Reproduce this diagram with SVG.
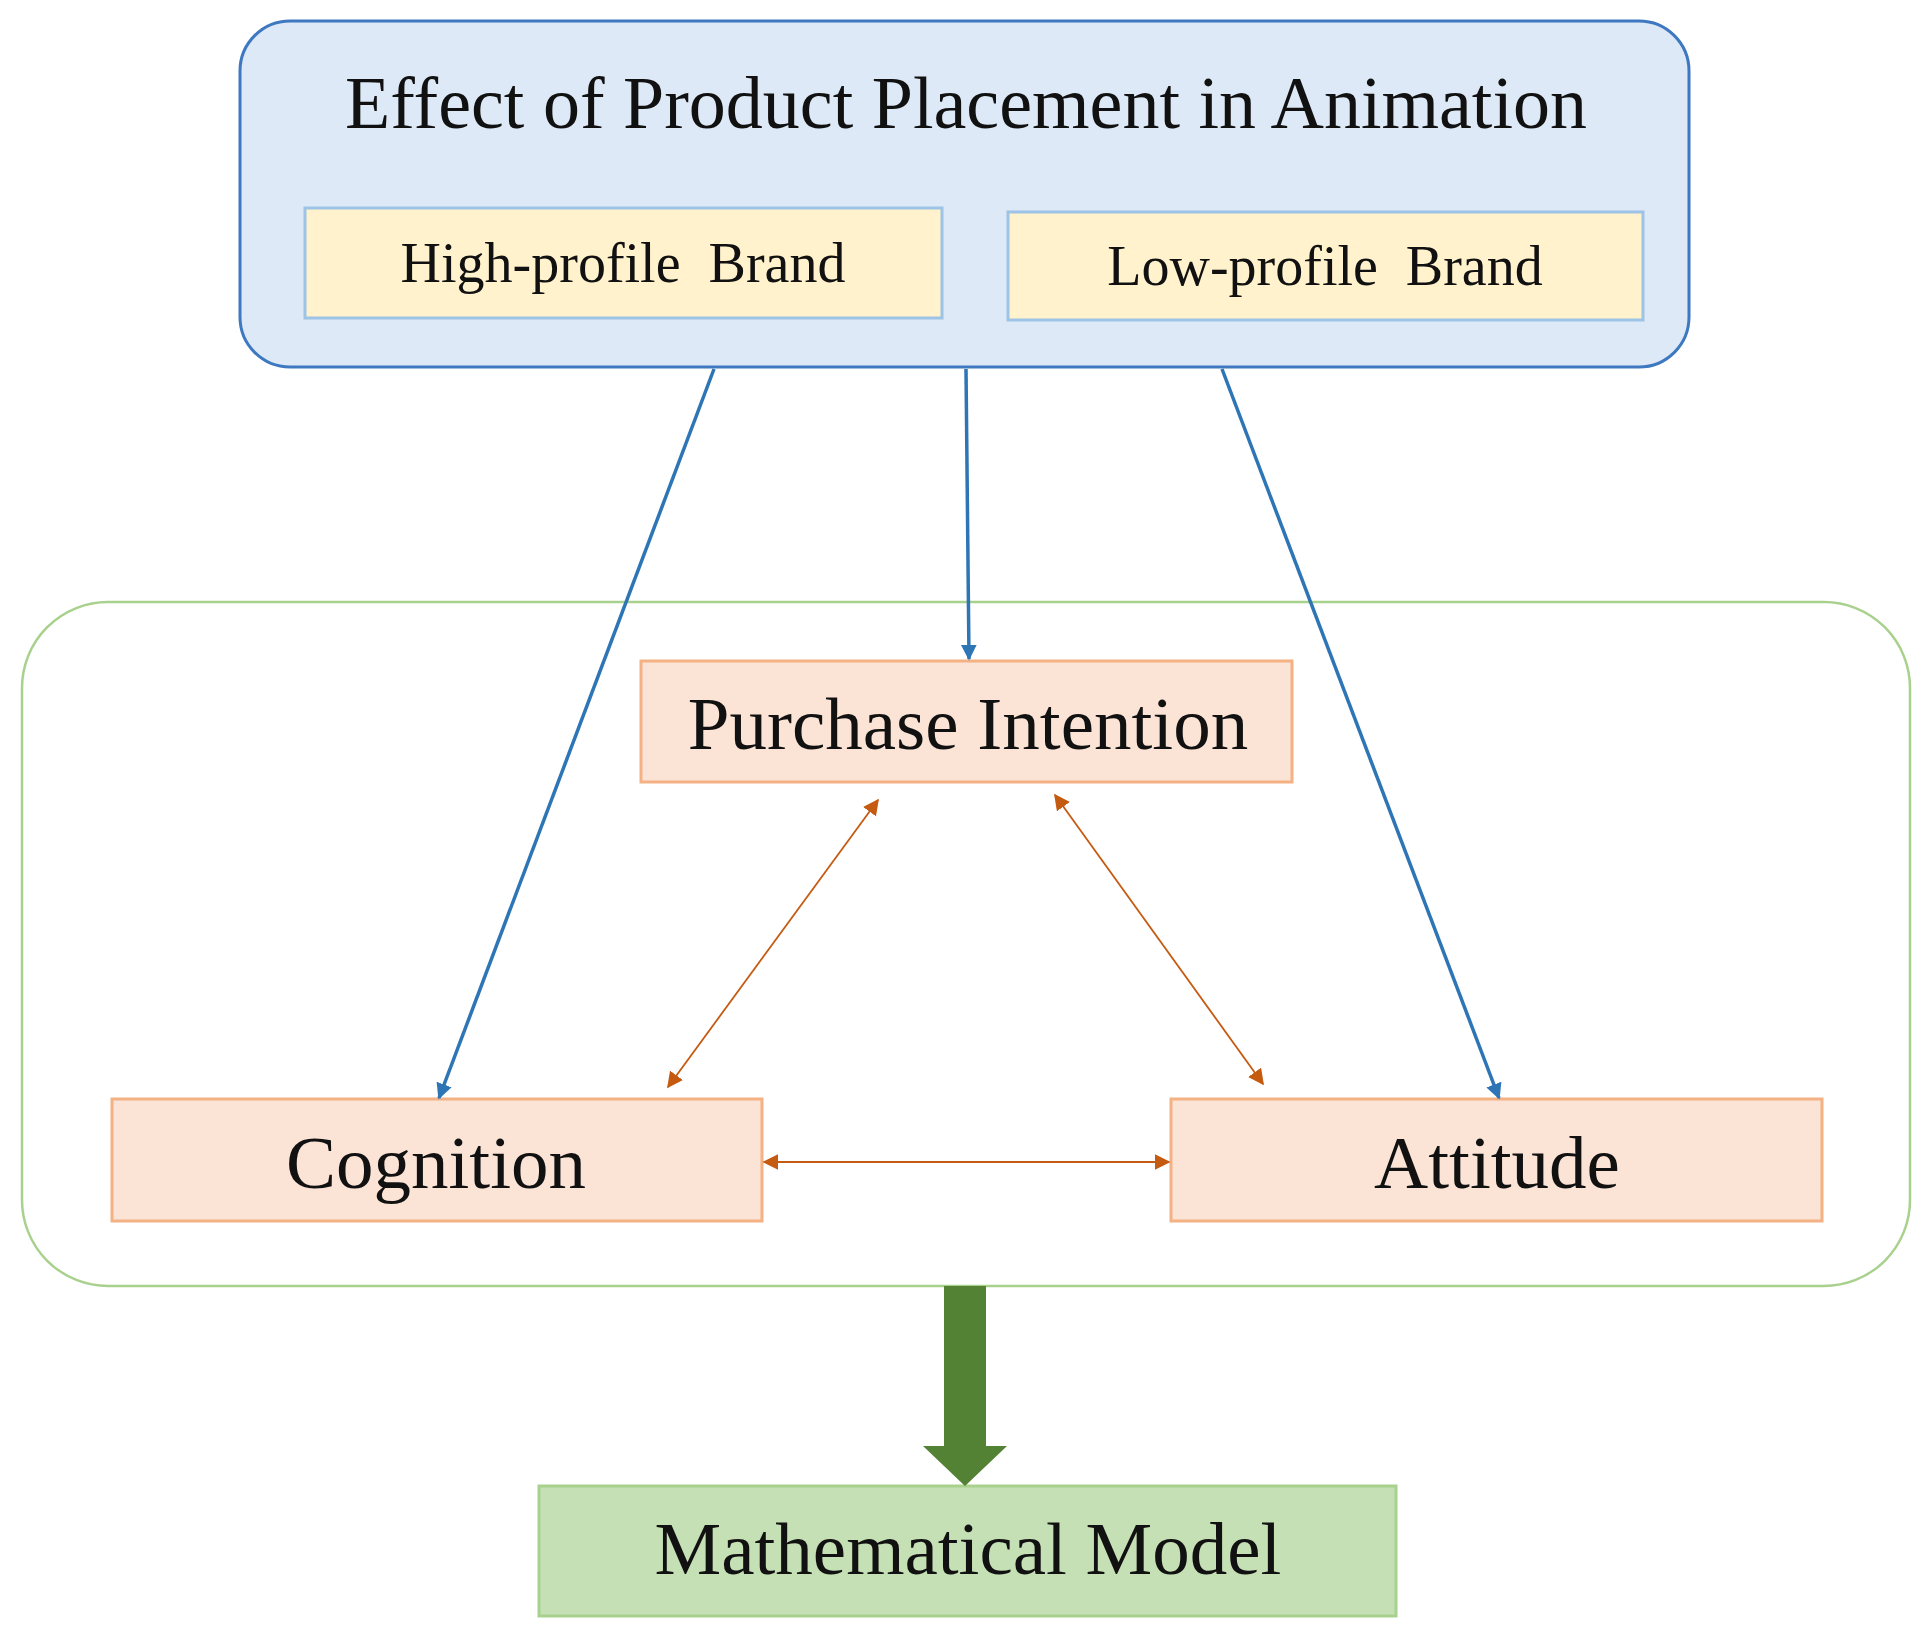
<svg xmlns="http://www.w3.org/2000/svg" width="1930" height="1641" viewBox="0 0 1930 1641">
<style>
text{font-family:"Liberation Serif","Times New Roman",serif;fill:#111;text-anchor:middle;dominant-baseline:central}
.sal{fill:#fbe3d6;stroke:#f4b183;stroke-width:3}
.yel{fill:#fff2cc;stroke:#9dc3e6;stroke-width:3}
.blue{stroke:#2e75b6;stroke-width:3.5;fill:none;marker-end:url(#bh)}
.or{stroke:#c55a11;stroke-width:1.8;fill:none;marker-start:url(#oh);marker-end:url(#oh)}
</style>
<defs>
<marker id="bh" viewBox="0 0 10 10" refX="9" refY="5" markerWidth="16" markerHeight="16" orient="auto" markerUnits="userSpaceOnUse"><path d="M0,0L10,5L0,10z" fill="#2e75b6"/></marker>
<marker id="oh" viewBox="0 0 10 10" refX="9" refY="5" markerWidth="16" markerHeight="16" orient="auto-start-reverse" markerUnits="userSpaceOnUse"><path d="M0,0L10,5L0,10z" fill="#c55a11"/></marker>
</defs>
<rect width="1930" height="1641" fill="#fff"/>
<g id="top">
<rect x="240" y="21" width="1449" height="346" rx="50" fill="#dde9f6" stroke="#3d78c0" stroke-width="3"/>
<text x="966" y="103" font-size="74">Effect of Product Placement in Animation</text>
</g>
<g id="high"><rect class="yel" x="305" y="208" width="637" height="110"/><text x="623" y="263" font-size="56" xml:space="preserve">High-profile  Brand</text></g>
<g id="low"><rect class="yel" x="1008" y="212" width="635" height="108"/><text x="1325" y="266" font-size="56" xml:space="preserve">Low-profile  Brand</text></g>
<g id="container"><rect x="22" y="602" width="1888" height="684" rx="86" fill="none" stroke="#a9d18e" stroke-width="2.5"/></g>
<g id="purchase"><rect class="sal" x="641" y="661" width="651" height="121"/><text x="968" y="723" font-size="75">Purchase Intention</text></g>
<g id="cognition"><rect class="sal" x="112" y="1099" width="650" height="122"/><text x="436" y="1162" font-size="75">Cognition</text></g>
<g id="attitude"><rect class="sal" x="1171" y="1099" width="651" height="122"/><text x="1497" y="1162" font-size="75">Attitude</text></g>
<g id="math"><rect x="539" y="1486" width="857" height="130" fill="#c5e0b4" stroke="#a9d18e" stroke-width="3"/><text x="968" y="1548" font-size="75">Mathematical Model</text></g>
<g id="connectors">
<line class="blue" x1="714" y1="369" x2="439" y2="1098"/>
<line class="blue" x1="966" y1="369" x2="969" y2="659"/>
<line class="blue" x1="1222" y1="369" x2="1499" y2="1098"/>
<line class="or" x1="878" y1="800" x2="668" y2="1087"/>
<line class="or" x1="1055" y1="795" x2="1263" y2="1084"/>
<line class="or" x1="764" y1="1162" x2="1169" y2="1162"/>
<path d="M944,1286H986V1446H1007L965,1486L923,1446H944Z" fill="#548235"/>
</g>
</svg>
